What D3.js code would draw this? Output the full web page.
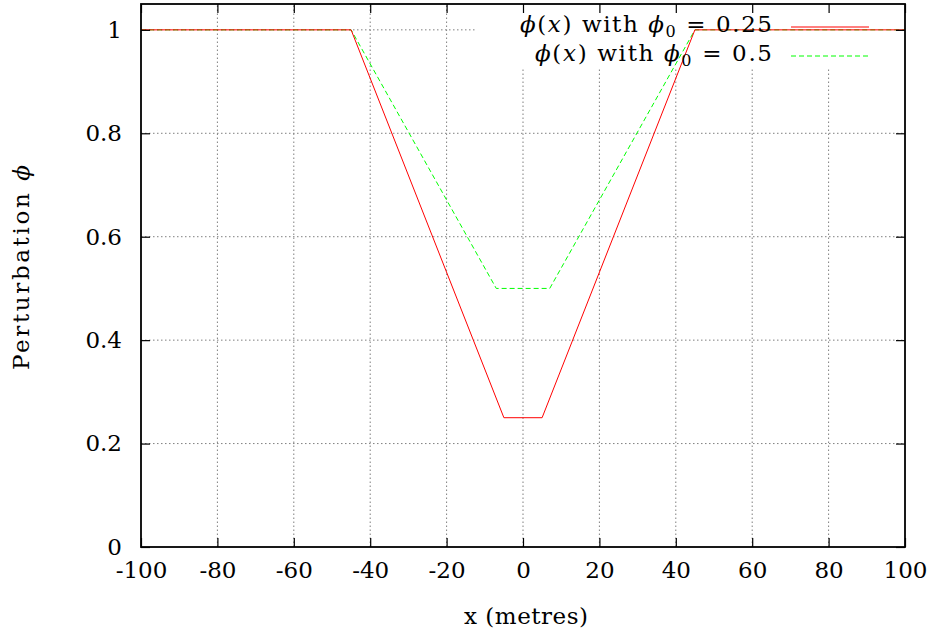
<!DOCTYPE html>
<html>
<head>
<meta charset="utf-8">
<script src="https://cdn.jsdelivr.net/npm/d3@7"></script>
<style>
body{margin:0;background:#fff}
text{font-family:"DejaVu Serif",serif;fill:#000}
</style>
</head>
<body>
<div id="chart"></div>
<script>
// donnees
let xTicks=[-100,-80,-60,-40,-20,0,20,40,60,80,100]
let yTicks=[0,0.2,0.4,0.6,0.8,1]
let yTickLabels=["0","0.2","0.4","0.6","0.8","1"]
let xRed=[-100,-45,-5,5,45,100]
let yRed=[1,1,0.25,0.25,1,1]
let xGreen=[-100,-45,-7,7,45,100]
let yGreen=[1,1,0.5,0.5,1,1]
let legendLabels=["0.25","0.5"]

let width=938,height=636
let mLeft=141,mRight=905,mTop=4,mBottom=547
let fontSize=23

let svg=d3.select("#chart").append("svg")
	.attr("width",width)
	.attr("height",height)

let x=d3.scaleLinear().domain([-100,100]).range([mLeft,mRight])
let y=d3.scaleLinear().domain([0,1.05]).range([mBottom,mTop])

// grille pointillee
let grid=svg.append("g")
	.attr("stroke","#7f7f7f")
	.attr("stroke-width",1)
	.attr("stroke-dasharray","1.5,2.5")
xTicks.slice(1,-1).forEach(t=>{
	grid.append("line")
	.attr("x1",x(t)).attr("x2",x(t))
	.attr("y1",mBottom).attr("y2",mTop)
})
yTicks.slice(1).forEach(t=>{
	grid.append("line")
	.attr("x1",mLeft).attr("x2",mRight)
	.attr("y1",y(t)).attr("y2",y(t))
})

// cadre opaque de la legende
svg.append("rect")
	.attr("x",475).attr("y",mTop)
	.attr("width",mRight-475).attr("height",64)
	.attr("fill","#fff")

let line=d3.line().x(d=>x(d[0])).y(d=>y(d[1]))

svg.append("path")
	.datum(d3.zip(xGreen,yGreen))
	.attr("d",line)
	.attr("fill","none")
	.attr("stroke","#00ff00")
	.attr("stroke-width",1)
	.attr("stroke-dasharray","5,3")

svg.append("path")
	.datum(d3.zip(xRed,yRed))
	.attr("d",line)
	.attr("fill","none")
	.attr("stroke","#ff0000")
	.attr("stroke-width",1)

// axes avec ticks vers l'interieur, sur les quatre cotes
let tickLen=9
svg.append("g")
	.attr("transform",`translate(0,${mBottom})`)
	.call(d3.axisBottom(x).tickValues(xTicks).tickSize(-tickLen).tickPadding(15).tickFormat(d=>d))
	.call(g=>g.select(".domain").remove())
svg.append("g")
	.attr("transform",`translate(0,${mTop})`)
	.call(d3.axisTop(x).tickValues(xTicks).tickSize(-tickLen).tickFormat(""))
	.call(g=>g.select(".domain").remove())
svg.append("g")
	.attr("transform",`translate(${mLeft},0)`)
	.call(d3.axisLeft(y).tickValues(yTicks).tickSize(-tickLen).tickPadding(19).tickFormat((d,i)=>yTickLabels[i]))
	.call(g=>g.select(".domain").remove())
svg.append("g")
	.attr("transform",`translate(${mRight},0)`)
	.call(d3.axisRight(y).tickValues(yTicks).tickSize(-tickLen).tickFormat(""))
	.call(g=>g.select(".domain").remove())

svg.selectAll(".tick line").attr("stroke","#000").attr("stroke-width",1.2)
svg.selectAll(".tick text")
	.style("font-family","'DejaVu Serif',serif")
	.style("font-size",fontSize+"px")
	.attr("fill","#000")

svg.append("rect")
	.attr("x",mLeft).attr("y",mTop)
	.attr("width",mRight-mLeft).attr("height",mBottom-mTop)
	.attr("fill","none")
	.attr("stroke","#000")
	.attr("stroke-width",1.8)

// legende
let legColors=["#ff0000","#00ff00"]
let legDash=[null,"5,3"]
let legWidth=[252,237]
legendLabels.forEach((lab,i)=>{
	let yl=27+i*29
	let t=svg.append("text")
		.attr("x",772-legWidth[i]).attr("y",yl+5)
		.attr("textLength",legWidth[i])
		.attr("lengthAdjust","spacing")
		.style("font-size",fontSize+"px")
	t.append("tspan").style("font-style","italic").text("ϕ")
	t.append("tspan").text("(")
	t.append("tspan").style("font-style","italic").text("x")
	t.append("tspan").text(") with ")
	t.append("tspan").style("font-style","italic").text("ϕ")
	t.append("tspan").attr("dy",5).style("font-size","16px").text("0")
	t.append("tspan").attr("dy",-5).text(" = "+lab)
	svg.append("line")
		.attr("x1",791).attr("x2",869)
		.attr("y1",yl).attr("y2",yl)
		.attr("stroke",legColors[i])
		.attr("stroke-width",1)
		.attr("stroke-dasharray",legDash[i])
})

// titres des axes
svg.append("text")
	.attr("x",464).attr("y",624)
	.attr("textLength",124)
	.attr("lengthAdjust","spacing")
	.style("font-size",fontSize+"px")
	.text("x (metres)")

let ylab=svg.append("text")
	.attr("transform","translate(29,370) rotate(-90)")
	.attr("textLength",205)
	.attr("lengthAdjust","spacing")
	.style("font-size",fontSize+"px")
ylab.append("tspan").text("Perturbation ")
ylab.append("tspan").style("font-style","italic").text("ϕ")
</script>
</body>
</html>
